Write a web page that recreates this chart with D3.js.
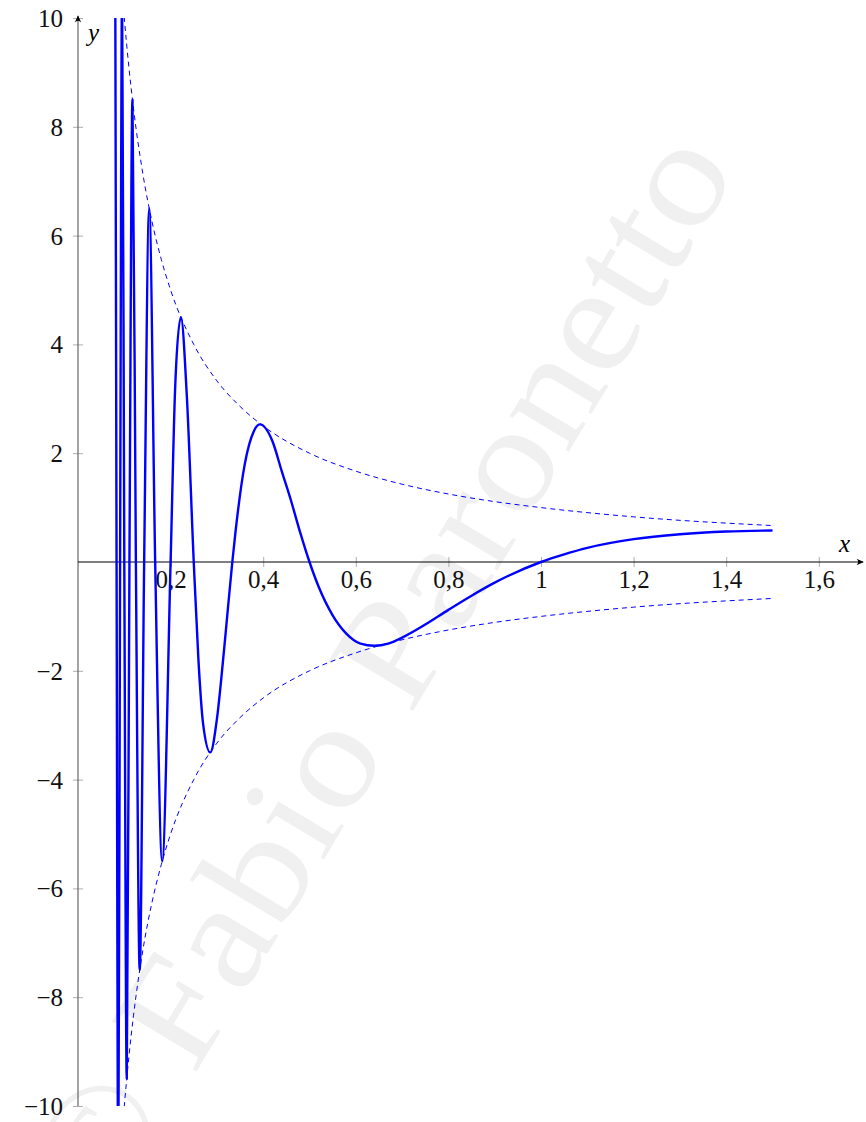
<!DOCTYPE html>
<html>
<head>
    <meta charset="utf-8">
    <script src="https://d3js.org/d3.v7.min.js"></script>
    <style>
        body { margin: 0; background: #fff; }
    </style>
</head>
<body>
    <svg id="chartArea" width="866" height="1122"></svg>
    <script>
        // tick values
        const xTicks = [0.2, 0.4, 0.6, 0.8, 1, 1.2, 1.4, 1.6];
        const yTicks = [-10, -8, -6, -4, -2, 2, 4, 6, 8, 10];

        // the oscillating curve (peaks, zeros, a few in between)
        const curveX = [0.080, 0.0833, 0.087, 0.0909, 0.0952, 0.100, 0.1053, 0.1111, 0.1176, 0.125,
                        0.1333, 0.1429, 0.1538, 0.1667, 0.1818, 0.200, 0.21, 0.2222, 0.235, 0.250,
                        0.26, 0.27, 0.2857, 0.30, 0.31, 0.32, 0.3333, 0.34, 0.36, 0.38,
                        0.393, 0.42, 0.44, 0.46, 0.48, 0.50, 0.52, 0.55, 0.58, 0.61,
                        0.64, 0.67, 0.70, 0.75, 0.80, 0.85, 0.90, 1.00, 1.05, 1.10,
                        1.20, 1.30, 1.40, 1.50];
        const curveY = [12.5, 0, -11.5, 0, 10.5, 0, -9.5, 0, 8.5, 0,
                        -7.5, 0, 6.5, 0, -5.5, 0, 3.24, 4.5, 3.06, 0,
                        -1.78, -2.96, -3.5, -2.89, -2.1, -1.2, 0, 0.54, 1.79, 2.41,
                        2.53, 2.22, 1.67, 1.13, 0.54, 0, -0.46, -0.98, -1.32, -1.5,
                        -1.54, -1.5, -1.39, -1.15, -0.88, -0.62, -0.38, 0, 0.14, 0.26,
                        0.42, 0.51, 0.56, 0.58];

        // dashed envelopes
        const envX = [0.08, 0.09, 0.10, 0.11, 0.12, 0.14, 0.16, 0.18, 0.20, 0.25, 0.30,
                      0.35, 0.40, 0.50, 0.60, 0.70, 0.80, 0.90, 1.00, 1.20, 1.50];
        const envUpper = [12.5, 11.1, 10, 9.09, 8.33, 7.14, 6.25, 5.56, 5, 4, 3.33,
                          2.86, 2.5, 2, 1.67, 1.43, 1.25, 1.11, 1, 0.83, 0.67];
        const envLower = [-12.5, -11.1, -10, -9.09, -8.33, -7.14, -6.25, -5.56, -5, -4, -3.33,
                          -2.86, -2.5, -2, -1.67, -1.43, -1.25, -1.11, -1, -0.83, -0.67];

        const serif = "'Liberation Serif', 'DejaVu Serif', serif";

        const svg = d3.select("#chartArea");

        const xScale = d3.scaleLinear().domain([0, 1]).range([78, 541]);
        const yScale = d3.scaleLinear().domain([-10, 10]).range([1106, 18]);

        const fmt = d => (d < 0 ? "\u2212" + Math.abs(d) : String(d)).replace(".", ",");

        // watermark
        svg.append("text")
            .attr("transform", "translate(738,170) rotate(-59)")
            .attr("text-anchor", "end")
            .attr("font-family", serif)
            .attr("font-size", 150)
            .attr("fill", "#f0f0f0")
            .attr("textLength", 1225)
            .attr("lengthAdjust", "spacingAndGlyphs")
            .text("\u00a9 Fabio Paronetto");

        const defs = svg.append("defs");
        defs.append("marker")
            .attr("id", "arrow")
            .attr("viewBox", "0 0 10 10")
            .attr("refX", 9).attr("refY", 5)
            .attr("markerWidth", 8).attr("markerHeight", 8)
            .attr("markerUnits", "userSpaceOnUse")
            .attr("orient", "auto")
            .append("path")
            .attr("d", "M1,1 Q5,5 1,9 L10,5 Z")
            .attr("fill", "black");
        defs.append("clipPath").attr("id", "clip")
            .append("rect")
            .attr("x", 0).attr("y", yScale(10))
            .attr("width", 866).attr("height", yScale(-10) - yScale(10));

        // axes
        const xAxis = d3.axisBottom(xScale).tickValues(xTicks).tickSize(10).tickFormat(fmt);
        const yAxis = d3.axisLeft(yScale).tickValues(yTicks).tickSize(10).tickFormat(fmt);

        const gx = svg.append("g").attr("transform", `translate(0,${yScale(0) - 5})`).call(xAxis);
        gx.attr("font-family", serif);
        gx.select(".domain").remove();
        gx.selectAll(".tick line").attr("stroke", "#999").attr("stroke-width", 0.8);
        gx.selectAll(".tick text").attr("font-size", 25).attr("fill", "#111")
            .attr("font-family", serif)
            .attr("y", 31).attr("dy", 0);

        const gy = svg.append("g").attr("transform", `translate(${xScale(0) + 5},0)`).call(yAxis);
        gy.attr("font-family", serif);
        gy.select(".domain").remove();
        gy.selectAll(".tick line").attr("stroke", "#999").attr("stroke-width", 0.8);
        gy.selectAll(".tick text").attr("font-size", 25).attr("fill", "#111")
            .attr("font-family", serif)
            .attr("x", -20).attr("dy", "0.34em");

        svg.append("line")
            .attr("x1", xScale(0)).attr("x2", xScale(0))
            .attr("y1", yScale(-10)).attr("y2", yScale(10) - 2)
            .attr("stroke", "#666").attr("stroke-width", 1.2)
            .attr("marker-end", "url(#arrow)");
        svg.append("line")
            .attr("x1", xScale(0)).attr("x2", 863)
            .attr("y1", yScale(0)).attr("y2", yScale(0))
            .attr("stroke", "black").attr("stroke-width", 1)
            .attr("marker-end", "url(#arrow)");

        svg.append("text").attr("x", 839).attr("y", 552)
            .attr("font-family", serif)
            .attr("font-size", 25).attr("font-style", "italic").text("x");
        svg.append("text").attr("x", 88).attr("y", 41)
            .attr("font-family", serif)
            .attr("font-size", 25).attr("font-style", "italic").text("y");

        // curves
        const plot = svg.append("g").attr("clip-path", "url(#clip)");

        const line = d3.line()
            .x(i => xScale(i[0]))
            .y(i => yScale(i[1]))
            .curve(d3.curveMonotoneX);

        plot.append("path")
            .attr("d", line(envX.map((x, i) => [x, envUpper[i]])))
            .attr("fill", "none").attr("stroke", "blue")
            .attr("stroke-width", 1).attr("stroke-dasharray", "5,4");
        plot.append("path")
            .attr("d", line(envX.map((x, i) => [x, envLower[i]])))
            .attr("fill", "none").attr("stroke", "blue")
            .attr("stroke-width", 1).attr("stroke-dasharray", "5,4");

        plot.append("path")
            .attr("d", line(curveX.map((x, i) => [x, curveY[i]])))
            .attr("fill", "none").attr("stroke", "blue")
            .attr("stroke-width", 2.4).attr("stroke-linejoin", "round");
    </script>
</body>
</html>
